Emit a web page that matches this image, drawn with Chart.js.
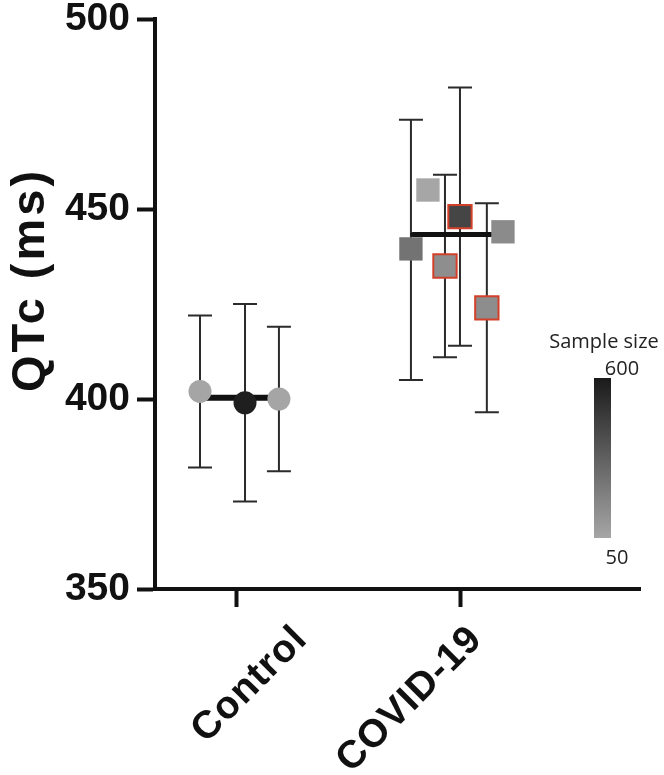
<!DOCTYPE html>
<html><head><meta charset="utf-8">
<script src="https://cdn.jsdelivr.net/npm/chart.js@4/dist/chart.umd.min.js"></script>
<style>html,body{margin:0;padding:0;background:#fff}#wrap{width:664px;height:775px;position:relative}</style>
</head><body><div id="wrap"><canvas id="c" width="664" height="775" style="width:664px;height:775px"></canvas></div>
<script>
// ---- data ----
const categories = ['Control', 'COVID-19'];
const yTitle = 'QTc (ms)';
const yTicks = [350, 400, 450, 500];
const controlQTc = [402, 399, 400];
const controlLower = [382, 373, 381];
const controlUpper = [422, 425, 419];
const controlN = [55, 580, 55];
const controlJitter = [-0.165, 0.036, 0.1875];
const covidQTc = [439.5, 455, 435, 448, 424, 444];
const covidLower = [405, null, 411, 414, 396.5, null];
const covidUpper = [473.5, null, 459, 482, 451.5, null];
const covidN = [250, 50, 145, 430, 150, 155];
const covidRedOutline = [false, false, true, true, true, false];
const covidJitter = [-0.223, -0.147, -0.071, -0.004, 0.116, 0.188];
const groupMeans = [400.3, 443.3];
const meanSpans = [[-0.165, 0.1875], [-0.214, 0.134]];
const sampleRange = [50, 600];

function grayFor(n) {
  let t = (n - sampleRange[0]) / (sampleRange[1] - sampleRange[0]);
  t = Math.max(0, Math.min(1, t));
  const v = Math.round(166 - 140 * t);
  return `rgb(${v},${v},${v})`;
}

const controlPts = controlQTc.map((v, i) => ({x: 1 + controlJitter[i], y: v}));
const covidPts = covidQTc.map((v, i) => ({x: 2 + covidJitter[i], y: v}));

const errorBarPlugin = {
  id: 'errorBars',
  beforeDatasetsDraw(chart) {
    const {ctx, scales: {x, y}} = chart;
    ctx.save();
    ctx.strokeStyle = '#2b2b2b';
    ctx.lineWidth = 2;
    chart.data.datasets.forEach(ds => {
      if (!ds.errLow) return;
      ds.data.forEach((p, i) => {
        const lo = ds.errLow[i], hi = ds.errHigh[i];
        if (lo == null || hi == null) return;
        const px = x.getPixelForValue(p.x);
        const yl = y.getPixelForValue(lo), yh = y.getPixelForValue(hi);
        ctx.beginPath();
        ctx.moveTo(px, yl); ctx.lineTo(px, yh);
        ctx.moveTo(px - 12, yl); ctx.lineTo(px + 12, yl);
        ctx.moveTo(px - 12, yh); ctx.lineTo(px + 12, yh);
        ctx.stroke();
      });
    });
    ctx.restore();
  }
};

const textPlugin = {
  id: 'texts',
  afterDraw(chart) {
    const {ctx, scales: {x, y}} = chart;
    ctx.save();
    // rotated category labels
    const offs = [[72, 52], [23, 52]];
    ctx.font = 'bold 39px "Liberation Sans", Arial, sans-serif';
    ctx.fillStyle = '#111';
    ctx.textAlign = 'right';
    ctx.textBaseline = 'alphabetic';
    try { ctx.letterSpacing = '1px'; } catch (e) {}
    categories.forEach((c, i) => {
      const px = x.getPixelForValue(i + 1);
      ctx.save();
      ctx.translate(px + offs[i][0], x.top + offs[i][1]);
      ctx.rotate(-Math.PI / 4);
      ctx.fillText(c, 0, 0);
      ctx.restore();
    });
    // y axis title
    ctx.save();
    ctx.font = 'bold 47px "Liberation Sans", Arial, sans-serif';
    try { ctx.letterSpacing = '3px'; } catch (e) {}
    ctx.textAlign = 'center';
    ctx.textBaseline = 'middle';
    ctx.translate(31, (y.top + y.bottom) / 2 - 24);
    ctx.rotate(-Math.PI / 2);
    ctx.fillText(yTitle, 0, 0);
    ctx.restore();
    ctx.restore();
  }
};

const colorBarPlugin = {
  id: 'colorBar',
  afterDraw(chart) {
    const ctx = chart.ctx;
    ctx.save();
    const top = 378, bottom = 538, left = 594, w = 17;
    const g = ctx.createLinearGradient(0, top, 0, bottom);
    g.addColorStop(0, grayFor(sampleRange[1]));
    g.addColorStop(1, grayFor(sampleRange[0]));
    ctx.fillStyle = g;
    ctx.fillRect(left, top, w, bottom - top);
    ctx.fillStyle = '#222';
    ctx.font = '20px "Open Sans", sans-serif';
    ctx.textAlign = 'center';
    ctx.textBaseline = 'alphabetic';
    ctx.fillText('Sample size', 604, 348);
    ctx.fillText(String(sampleRange[1]), 622, 375);
    ctx.fillText(String(sampleRange[0]), 617, 564);
    ctx.restore();
  }
};

new Chart(document.getElementById('c'), {
  type: 'scatter',
  data: {
    datasets: [
      {
        label: 'Control mean', showLine: true, order: 3,
        data: [{x: 1 + meanSpans[0][0], y: groupMeans[0]}, {x: 1 + meanSpans[0][1], y: groupMeans[0]}],
        borderColor: '#111', borderWidth: 6, pointRadius: 0, borderCapStyle: 'butt'
      },
      {
        label: 'COVID mean', showLine: true, order: 3,
        data: [{x: 2 + meanSpans[1][0], y: groupMeans[1]}, {x: 2 + meanSpans[1][1], y: groupMeans[1]}],
        borderColor: '#111', borderWidth: 5, pointRadius: 0, borderCapStyle: 'round'
      },
      {
        label: 'Control', order: 1, data: controlPts,
        errLow: controlLower, errHigh: controlUpper,
        pointStyle: 'circle', pointRadius: 11.5,
        backgroundColor: controlN.map(grayFor), borderWidth: 0
      },
      {
        label: 'COVID-19', order: 1, data: covidPts,
        errLow: covidLower, errHigh: covidUpper,
        pointStyle: 'rect', pointRadius: 16.5,
        backgroundColor: covidN.map(grayFor),
        borderColor: covidRedOutline.map(f => f ? '#d2402a' : 'rgba(0,0,0,0)'),
        borderWidth: covidRedOutline.map(f => f ? 2 : 0)
      }
    ]
  },
  options: {
    responsive: false,
    animation: false,
    layout: {padding: {top: 19, right: 24, left: 0, bottom: 0}},
    plugins: {legend: {display: false}, tooltip: {enabled: false}},
    scales: {
      x: {
        type: 'linear', min: 0.634, max: 2.8,
        afterBuildTicks: s => { s.ticks = categories.map((c, i) => ({value: i + 1})); },
        afterFit: s => { s.height = 186; },
        ticks: {display: false},
        grid: {drawOnChartArea: false, tickLength: 18, tickWidth: 4, tickColor: '#111'},
        border: {display: true, width: 4, color: '#111'}
      },
      y: {
        min: 350, max: 500,
        afterBuildTicks: s => { s.ticks = yTicks.map(v => ({value: v})); },
        afterFit: s => { s.width = 155; s.paddingTop = 0; s.paddingBottom = 0; },
        ticks: {
          padding: 7, color: '#111',
          font: {family: '"Liberation Sans", Arial, sans-serif', size: 39, weight: 'bold', lineHeight: 0.5}
        },
        grid: {drawOnChartArea: false, tickLength: 18, tickWidth: 4, tickColor: '#111'},
        border: {display: true, width: 4, color: '#111'},
        title: {display: false}
      }
    }
  },
  plugins: [errorBarPlugin, textPlugin, colorBarPlugin]
});
</script>
</body></html>
